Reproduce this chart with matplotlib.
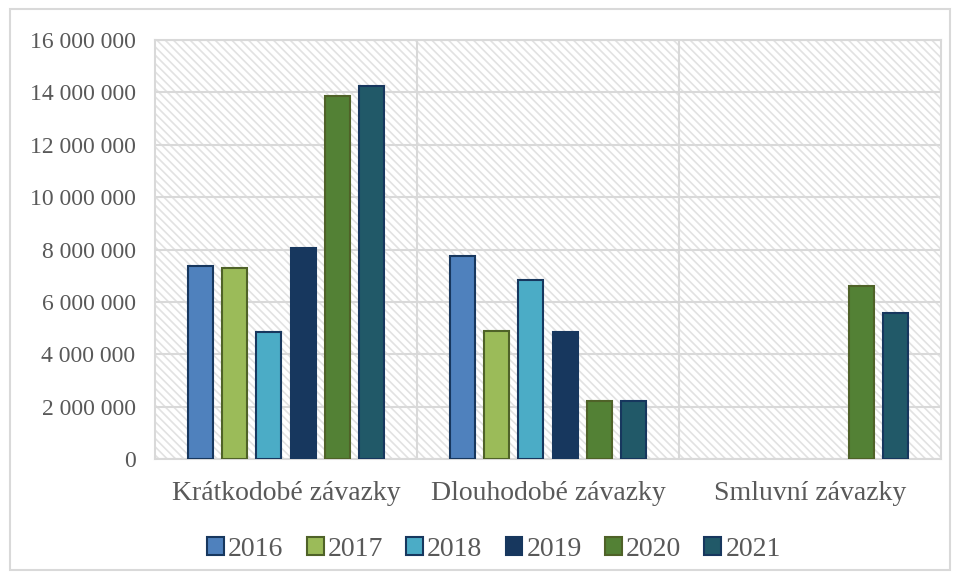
import matplotlib
matplotlib.use("Agg")
import matplotlib.pyplot as plt
from matplotlib.patches import Rectangle
from matplotlib.ticker import FuncFormatter
import numpy as np

plt.rcParams['font.family'] = ['Liberation Serif', 'DejaVu Serif']
plt.rcParams['hatch.linewidth'] = 1.2

kategorie = ['Krátkodobé závazky', 'Dlouhodobé závazky', 'Smluvní závazky']
roky = ['2016', '2017', '2018', '2019', '2020', '2021']
# nan = bez hodnoty (sloupec se nekresli)
hodnoty = {
    '2016': [7370000, 7760000, np.nan],
    '2017': [7280000, 4890000, np.nan],
    '2018': [4840000, 6830000, np.nan],
    '2019': [8040000, 4840000, np.nan],
    '2020': [13870000, 2210000, 6590000],
    '2021': [14260000, 2230000, 5570000],
}
barvy = ['#4f81bd', '#9bbb59', '#4bacc6', '#17375e', '#538135', '#215968']
okraje = ['#17375e', '#4f6228', '#17375e', '#17375e', '#4f6228', '#17375e']

seda = '#595959'
mrizka = '#d9d9d9'

fig = plt.figure(figsize=(9.57, 5.79), dpi=100)
ax = fig.add_axes([155/957, 1-459/579, (941-155)/957, (459-40)/579])

# sraffovane pozadi plochy grafu
ax.add_patch(Rectangle((0, 0), 1, 1, transform=ax.transAxes, facecolor='white',
                       edgecolor='#e2e2e2', hatch='\\\\\\\\', linewidth=0, zorder=0))

x = np.arange(len(kategorie))
krok = 0.131
sirka = 0.095
for i, rok in enumerate(roky):
    pos = x + (i - 2.5) * krok
    ax.bar(pos, hodnoty[rok], width=sirka, color=barvy[i], edgecolor=okraje[i],
           linewidth=1.5, label=rok, zorder=3)

ax.set_xlim(-0.5, 2.5)
ax.set_ylim(0, 16000000)
ax.set_yticks(np.arange(0, 16000001, 2000000))
ax.yaxis.set_major_formatter(FuncFormatter(lambda v, p: f'{int(v):,}'.replace(',', ' ')))
ax.set_xticks(x)
ax.set_xticklabels(kategorie)
ax.tick_params(axis='both', length=0, colors=seda)
ax.tick_params(axis='y', pad=14, labelsize=17)
ax.tick_params(axis='x', pad=16, labelsize=20)

ax.yaxis.grid(True, color=mrizka, linewidth=1.5, zorder=1)
for xv in [0.5, 1.5]:
    ax.axvline(xv, color=mrizka, linewidth=1.5, zorder=1)
for s in ax.spines.values():
    s.set_color(mrizka)
    s.set_linewidth(1.5)

leg = fig.legend(loc='center', bbox_to_anchor=(494/957, 1-549/579), ncol=6,
                 frameon=False, fontsize=20, handlelength=0.61, handleheight=0.61,
                 handletextpad=0.15, columnspacing=0.83, labelcolor=seda)

# ramecek kolem celeho grafu
fig.patches.append(Rectangle((10/957, 9/579), 940/957, 561/579, transform=fig.transFigure,
                             fill=False, edgecolor=mrizka, linewidth=1.5))

fig.savefig('out.png', dpi=100, facecolor='white')
